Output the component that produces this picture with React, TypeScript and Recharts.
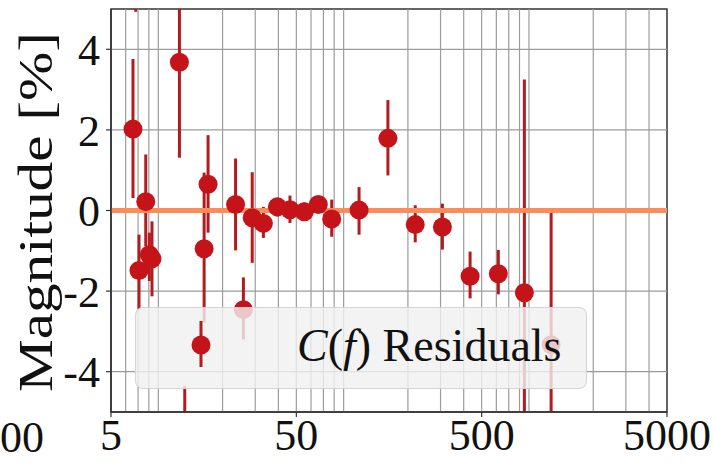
import React from 'react';
import { ScatterChart, Scatter, XAxis, YAxis, ErrorBar, ReferenceLine, ReferenceArea } from 'recharts';

// frequency, residual value [%], lower / upper bound of error bar [%]
const freqs = [6.57, 6.8, 7.08, 7.7, 8.05, 8.32, 11.7, 12.5, 15.9, 16.7, 23.5, 25.9, 28.9, 33.2, 39.5, 46.2, 55.2, 65.7, 77.6, 109, 156, 219, 307, 433, 615, 850, 1185];
const values = [2.02, 7.0, -1.49, 0.22, -1.1, -1.2, 3.68, -6.5, -0.95, 0.65, 0.15, -2.46, -0.18, -0.32, 0.09, 0.02, -0.03, 0.15, -0.21, 0.01, 1.79, -0.35, -0.41, -1.63, -1.57, -2.04, -3.33];
const lowerBounds = [0.31, 4.93, -2.45, -0.89, -1.75, -2.13, 1.31, -8.6, -2.78, -0.55, -0.99, -3.2, -1.3, -0.68, -0.15, -0.31, -0.25, -0.05, -0.65, -0.6, 0.87, -0.79, -0.97, -2.18, -2.08, -7.3, -6.6];
const upperBounds = [3.76, 9.0, -0.6, 1.39, -0.55, -0.27, 6.05, -4.36, 0.94, 1.87, 1.29, -1.66, 0.95, 0.09, 0.3, 0.37, 0.2, 0.35, 0.27, 0.58, 2.74, 0.13, 0.17, -1.02, -0.98, 3.25, -0.06];

const xTicks = [5, 50, 500, 5000];
const yTicks = [-4, -2, 0, 2, 4];
const xGrid = [6, 7, 8, 9, 20, 30, 40, 50, 60, 70, 80, 90, 200, 300, 400, 500, 600, 700, 800, 900, 2000, 3000, 4000];

const data = freqs.map((f, i) => ({
  f,
  v: values[i],
  err: [values[i] - lowerBounds[i], upperBounds[i] - values[i]],
}));

const MARKER = '#c4141a';
const BAR = '#b01c1f';
const ORANGE = '#fc8d59';
const GRID = '#9c9c9c';
const FONT = '"Liberation Serif", "Times New Roman", serif';

const Dot = (props: any) => {
  const { cx, cy } = props;
  if (cx == null || cy == null) return <g />;
  return <circle cx={cx} cy={cy} r={9.5} fill={MARKER} />;
};
const Nothing = () => <g />;

const css = `
.recharts-errorBars, .recharts-errorBar, .recharts-scatter, .recharts-scatter-symbol { clip-path: url(#plotAreaClip); }
`;

export default function App() {
  return (
    <div style={{ position: 'absolute', left: 0, top: 0, width: 713, height: 463, background: '#fff', overflow: 'hidden' }}>
      <style>{css}</style>
      <svg width={0} height={0} style={{ position: 'absolute' }}>
        <defs>
          <clipPath id="plotAreaClip" clipPathUnits="userSpaceOnUse">
            <rect x={111} y={9} width={556} height={403} />
          </clipPath>
        </defs>
      </svg>
      <ScatterChart width={713} height={463} margin={{ top: 9, right: 46, bottom: 0, left: 0 }}>
        <XAxis
          dataKey="f"
          type="number"
          scale="log"
          domain={[5, 5000]}
          ticks={xTicks}
          allowDataOverflow
          height={51}
          tickSize={5}
          tickMargin={2}
          axisLine={{ stroke: '#333', strokeWidth: 1.5 }}
          tickLine={{ stroke: '#333', strokeWidth: 1.2 }}
          tick={{ fill: '#111', fontSize: 44, fontFamily: FONT }}
          interval={0}
        />
        <YAxis
          dataKey="v"
          type="number"
          domain={[-5, 5]}
          ticks={yTicks}
          allowDataOverflow
          width={111}
          tickSize={5}
          tickMargin={6}
          axisLine={{ stroke: '#333', strokeWidth: 1.5 }}
          tickLine={{ stroke: '#333', strokeWidth: 1.2 }}
          tick={{ fill: '#111', fontSize: 44, fontFamily: FONT }}
          interval={0}
          label={{
            content: () => (
              <text
                x={35}
                y={212}
                transform="rotate(-90 35 212)"
                textAnchor="middle"
                dominantBaseline="central"
                fontSize={48}
                fontFamily={FONT}
                fill="#111"
                textLength={360}
                lengthAdjust="spacingAndGlyphs"
              >
                Magnitude [%]
              </text>
            ),
          }}
        />
        {yTicks.map((t) => (
          <ReferenceLine key={'h' + t} y={t} stroke={GRID} strokeWidth={1.2} />
        ))}
        {xGrid.map((t) => (
          <ReferenceLine key={'v' + t} x={t} stroke={GRID} strokeWidth={1.2} />
        ))}
        <Scatter data={data} shape={Nothing} isAnimationActive={false}>
          <ErrorBar dataKey="err" direction="y" width={0} stroke={BAR} strokeWidth={3} isAnimationActive={false} />
        </Scatter>
        <ReferenceLine y={0} stroke={ORANGE} strokeWidth={5} />
        <Scatter data={data} shape={Dot} isAnimationActive={false} />
        <ReferenceArea x1={5} x2={5000} y1={-5} y2={5} fill="none" stroke="#333" strokeWidth={1.5} ifOverflow="visible" />
      </ScatterChart>

      <div
        style={{
          position: 'absolute',
          left: 135,
          top: 307,
          width: 452,
          height: 82,
          boxSizing: 'border-box',
          background: 'rgba(240,240,240,0.82)',
          border: '1px solid rgba(205,205,205,0.8)',
          borderRadius: 8,
        }}
      >
        <svg width={120} height={82} style={{ position: 'absolute', left: 0, top: 0 }}>
          <line x1={65} y1={13} x2={65} y2={59} stroke={BAR} strokeWidth={3} />
          <circle cx={65} cy={37} r={9.5} fill={MARKER} />
        </svg>
        <div
          style={{
            position: 'absolute',
            left: 161,
            top: 12,
            fontFamily: FONT,
            fontSize: 46,
            lineHeight: '52px',
            color: '#111',
            whiteSpace: 'nowrap',
          }}
        >
          <i>C</i>(<i>f</i>)&nbsp;Residuals
        </div>
      </div>

      <div
        style={{
          position: 'absolute',
          left: 0,
          top: 416,
          fontFamily: FONT,
          fontSize: 44,
          lineHeight: '44px',
          color: '#111',
        }}
      >
        00
      </div>
    </div>
  );
}
